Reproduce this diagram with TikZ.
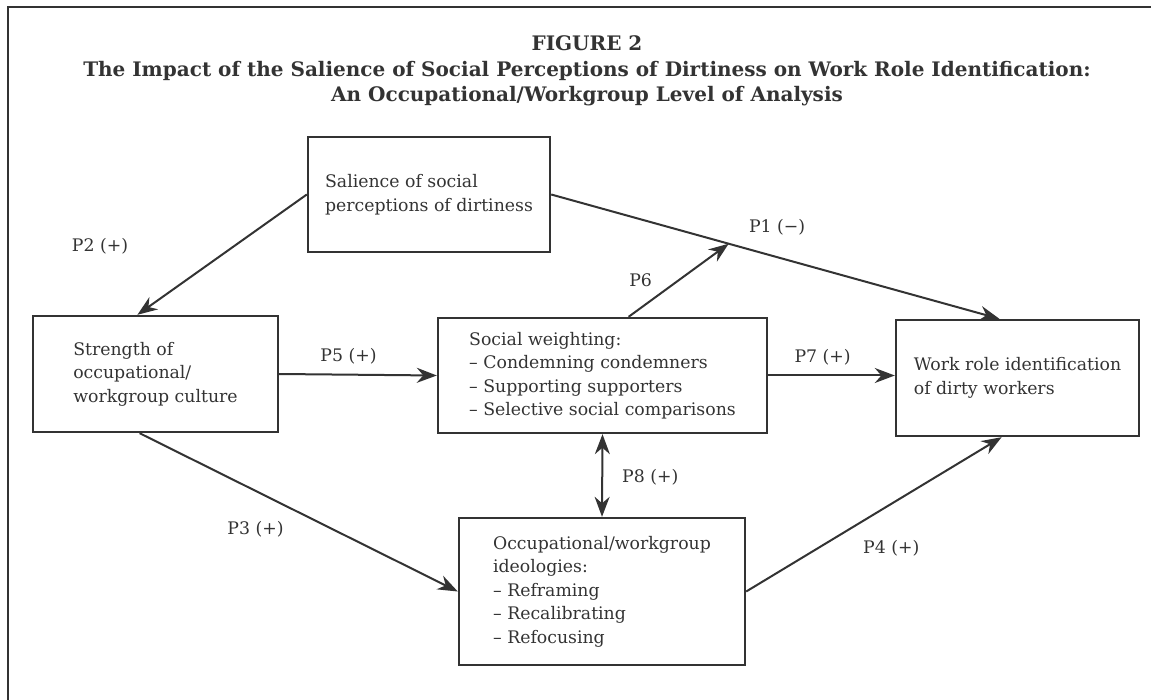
\documentclass[tikz,border=0pt]{standalone}
\usepackage{fontspec}
\setmainfont{DejaVu Serif}
\usetikzlibrary{arrows.meta}
\definecolor{ink}{HTML}{333333}
\newcommand\bodyfont{\fontsize{17.3}{23.5}\selectfont}
\newcommand\headfont{\bfseries\fontsize{20}{25}\selectfont}
\newcommand\figfont{\bfseries\fontsize{20}{25}\selectfont}

\begin{document}
\begin{tikzpicture}[
  x=1pt, y=-1pt,
  text=ink,
  >={Stealth[length=20pt,width=15pt]},
  box/.style={rectangle, draw=ink, line width=2.4pt, align=left, inner sep=0pt, font=\bodyfont},
  link/.style={draw=ink, line width=2pt},
  tag/.style={font=\bodyfont, inner sep=0pt}
]
\useasboundingbox (0,0) rectangle (1151,700);
\draw[ink, line width=2.5pt] (1151,7) -| (8,700);

% title
\node[anchor=base, font=\figfont] (fig) at (587,51) {FIGURE 2};
\node[anchor=base, font=\headfont] (head1) at (587,77) {The Impact of the Salience of Social Perceptions of Dirtiness on Work Role Identification:};
\node[anchor=base, font=\headfont] (head2) at (587,102) {An Occupational/Workgroup Level of Analysis};

% boxes
\node[box, minimum width=242pt, minimum height=115pt] (sal) at (429,194.5) {Salience of social\\perceptions of dirtiness};
\node[box, minimum width=245pt, minimum height=116pt] (str) at (155.5,374) {Strength of\\occupational/\\workgroup culture};
\node[box, minimum width=329pt, minimum height=115pt] (soc) at (602.5,375.5) {Social weighting:\\– Condemning condemners\\– Supporting supporters\\– Selective social comparisons};
\node[box, minimum width=286pt, minimum height=147pt] (ide) at (602,591.5) {Occupational/workgroup\\ideologies:\\– Reframing\\– Recalibrating\\– Refocusing};
\node[box, minimum width=243pt, minimum height=116pt] (work) at (1017.5,378) {Work role identification\\of dirty workers};

% paths
\draw[link,->] (sal.west) -- node[tag, pos=0.43, xshift=-134pt] {P2 (+)} (str.107);
\draw[link,->] (sal.east) -- coordinate[pos=0.396] (p1mid) node[tag, pos=0.504, yshift=30pt] {P1 (−)} (work.107);
\draw[link,->] (soc.66) -- node[tag, pos=0.5, xshift=-38pt] {P6} (p1mid);
\draw[link,->] (str.east) -- node[tag, pos=0.44, yshift=18.5pt] {P5 (+)} (soc.west);
\draw[link,->] (soc.east) -- node[tag, pos=0.43, yshift=18pt] {P7 (+)} (soc.east -| work.west);
\draw[link,->] (str.255) -- node[tag, pos=0.364, yshift=-38.5pt] {P3 (+)} (ide.west);
\draw[link,->] (ide.east) -- node[tag, pos=0.568, yshift=-44pt] {P4 (+)} (work.255);
\draw[link,<->] (soc.south) -- node[tag, pos=0.52, xshift=48pt] {P8 (+)} (ide.north);
\end{tikzpicture}
\end{document}
